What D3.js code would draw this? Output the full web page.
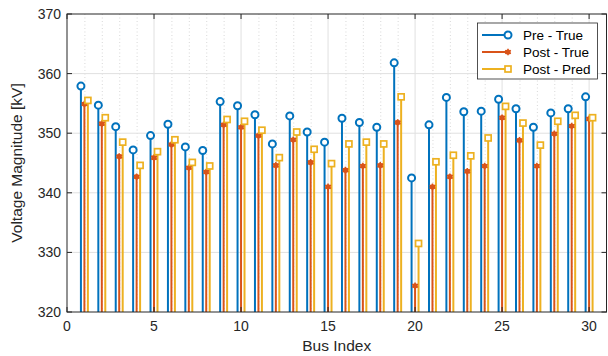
<!DOCTYPE html>
<html><head><meta charset="utf-8">
<script src="https://cdn.jsdelivr.net/npm/d3@7"></script>
<style>body{margin:0;background:#fff}svg{display:block}text{font-family:"Liberation Sans",Arial,sans-serif}</style>
</head><body><svg id="c" width="608" height="356"></svg>
<script>
const buses = d3.range(1, 31);
const preTrue = [357.9,354.7,351.1,347.2,349.6,351.5,347.7,347.1,355.3,354.6,353.1,348.2,352.9,350.2,348.5,352.5,351.8,351.0,361.8,342.5,351.4,356.0,353.6,353.7,355.7,354.1,351.0,353.4,354.1,356.1];
const postTrue = [354.9,351.6,346.1,342.7,345.9,348.1,344.2,343.5,351.4,351.0,349.6,344.6,348.9,345.1,341.0,343.8,344.5,344.6,351.8,324.4,341.0,342.7,343.6,344.5,352.6,348.8,344.5,349.9,351.2,352.4];
const postPred = [355.5,352.6,348.5,344.6,346.9,348.9,345.1,344.5,352.3,352.0,350.5,345.9,350.2,347.3,344.9,348.2,348.5,348.2,356.1,331.5,345.2,346.3,346.2,349.2,354.5,351.7,348.0,352.0,353.0,352.6];
const seriesNames = ["Pre - True","Post - True","Post - Pred"];
const xTicks = [0,5,10,15,20,25,30];
const yTicks = [320,330,340,350,360,370];

const colors = ["#0072BD","#D95319","#EDB120"];
const offsets = [-0.2, 0, 0.2];
const svg = d3.select("#c");
const L = 67, R = 606.5, T = 14, B = 312;
const x = d3.scaleLinear().domain([0,31]).range([L,R]);
const y = d3.scaleLinear().domain([320,370]).range([B,T]);
const tc = "#262626";

// grid
const g = svg.append("g");
g.selectAll(".minor").data(d3.range(1,31).filter(v=>v%5)).join("line")
 .attr("x1",d=>x(d)+0.5).attr("x2",d=>x(d)+0.5).attr("y1",T).attr("y2",B)
 .attr("stroke","#bdbdbd").attr("stroke-width",0.6).attr("stroke-dasharray","1,2.5");
g.selectAll(".vmaj").data(xTicks.slice(1)).join("line")
 .attr("x1",d=>x(d)).attr("x2",d=>x(d)).attr("y1",T).attr("y2",B)
 .attr("stroke","#e0e0e0").attr("stroke-width",1);
g.selectAll(".hmaj").data(yTicks.slice(1,-1)).join("line")
 .attr("x1",L).attr("x2",R).attr("y1",d=>y(d)).attr("y2",d=>y(d))
 .attr("stroke","#e0e0e0").attr("stroke-width",1);

// stems
const data = [preTrue, postTrue, postPred];
data.forEach((arr, s) => {
  const gs = svg.append("g");
  gs.selectAll("line").data(arr).join("line")
    .attr("x1",(d,i)=>x(buses[i]+offsets[s])).attr("x2",(d,i)=>x(buses[i]+offsets[s]))
    .attr("y1",y(320)).attr("y2",d=>y(d))
    .attr("stroke",colors[s]).attr("stroke-width",2);
});
function marker(sel, s, cx, cy) {
  if (s === 0) {
    sel.append("circle").attr("cx",cx).attr("cy",cy).attr("r",3.5)
      .attr("fill","#fff").attr("stroke",colors[0]).attr("stroke-width",2);
  } else if (s === 1) {
    sel.append("path").attr("transform",`translate(${cx},${cy})`)
      .attr("d",d3.symbol(d3.symbolAsterisk || d3.symbolCross, 30)())
      .attr("fill",colors[1]).attr("stroke",colors[1]).attr("stroke-width",1.5);
    sel.append("circle").attr("cx",cx).attr("cy",cy).attr("r",2.6).attr("fill",colors[1]);
  } else {
    sel.append("rect").attr("x",cx-3).attr("y",cy-3).attr("width",6).attr("height",6)
      .attr("fill","#fff").attr("stroke",colors[2]).attr("stroke-width",1.7);
  }
}
data.forEach((arr, s) => {
  const gm = svg.append("g");
  arr.forEach((d,i)=> marker(gm, s, x(buses[i]+offsets[s]), y(d)));
});

// axes box
svg.append("rect").attr("x",L).attr("y",T).attr("width",R-L).attr("height",B-T)
  .attr("fill","none").attr("stroke",tc).attr("stroke-width",1);
const ax = svg.append("g");
xTicks.forEach(v=>{
  ax.append("line").attr("x1",x(v)).attr("x2",x(v)).attr("y1",B).attr("y2",B-5).attr("stroke",tc);
  ax.append("line").attr("x1",x(v)).attr("x2",x(v)).attr("y1",T).attr("y2",T+5).attr("stroke",tc);
  ax.append("text").attr("x",x(v)).attr("y",B+19).attr("text-anchor","middle")
    .attr("font-size",14).attr("fill",tc).text(v);
});
yTicks.forEach(v=>{
  ax.append("line").attr("x1",L).attr("x2",L+5).attr("y1",y(v)).attr("y2",y(v)).attr("stroke",tc);
  ax.append("line").attr("x1",R).attr("x2",R-5).attr("y1",y(v)).attr("y2",y(v)).attr("stroke",tc);
  ax.append("text").attr("x",L-6).attr("y",y(v)+5).attr("text-anchor","end")
    .attr("font-size",14).attr("fill",tc).text(v);
});
svg.append("text").attr("x",(L+R)/2).attr("y",B+39).attr("text-anchor","middle")
  .attr("font-size",15.5).attr("fill",tc).text("Bus Index");
svg.append("text").attr("transform",`translate(22,${(T+B)/2}) rotate(-90)`)
  .attr("text-anchor","middle").attr("font-size",15.5).attr("fill",tc).text("Voltage Magnitude [kV]");

// legend
const lg = svg.append("g");
lg.append("rect").attr("x",477.5).attr("y",23).attr("width",120).attr("height",56)
  .attr("fill","#fff").attr("stroke",tc).attr("stroke-width",0.8);
seriesNames.forEach((n,s)=>{
  const ly = 35 + s*17;
  lg.append("line").attr("x1",482).attr("x2",508).attr("y1",ly).attr("y2",ly)
    .attr("stroke",colors[s]).attr("stroke-width",2);
  marker(lg, s, 508, ly);
  lg.append("text").attr("x",523).attr("y",ly+5).attr("font-size",13.5).attr("fill","#000").text(n);
});
</script></body></html>
